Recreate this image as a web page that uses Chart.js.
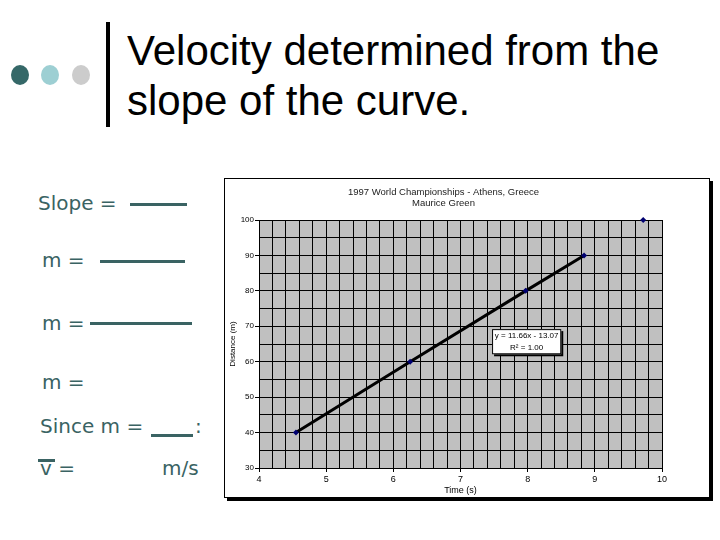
<!DOCTYPE html>
<html>
<head>
<meta charset="utf-8">
<script src="https://cdn.jsdelivr.net/npm/chart.js@4/dist/chart.umd.min.js"></script>
<style>
  html, body { margin: 0; padding: 0; background: #fff; }
  body { width: 720px; height: 540px; position: relative; overflow: hidden; }
  .dot { position: absolute; width: 18px; height: 20px; border-radius: 50%; top: 65px; }
  #bar { position: absolute; left: 106px; top: 22px; width: 4px; height: 105px; background: #000; }
  #title { position: absolute; left: 127px; top: 26px; font-family: "Liberation Sans", Arial, sans-serif; font-size: 42px; line-height: 50px; color: #000; white-space: nowrap; }
  .lt { position: absolute; font-family: "DejaVu Sans", Verdana, sans-serif; font-size: 20px; line-height: 24px; color: #3a6363; white-space: nowrap; }
  .ln { position: absolute; height: 0; border-top: 3px solid #3a6363; }
  #box { position: absolute; left: 224px; top: 178px; width: 484px; height: 318px; border: 1px solid #000; box-shadow: 3px 3px 0 #000; background: #fff; }
  #box canvas { display: block; }
</style>
</head>
<body>
<div class="dot" style="left:11px;background:#356868;"></div>
<div class="dot" style="left:41px;background:#9dcfd3;"></div>
<div class="dot" style="left:72px;background:#cccccc;"></div>
<div id="bar"></div>
<div id="title">Velocity determined from the<br>slope of the curve.</div>

<div class="lt" style="left:38px;top:191px;">Slope =</div>
<div class="ln" style="left:130px;top:203px;width:57px;"></div>
<div class="lt" style="left:42px;top:248px;">m =</div>
<div class="ln" style="left:100px;top:260px;width:85px;"></div>
<div class="lt" style="left:42px;top:311px;">m =</div>
<div class="ln" style="left:90px;top:322px;width:102px;"></div>
<div class="lt" style="left:42px;top:370px;">m =</div>
<div class="lt" style="left:40px;top:414px;">Since m =</div>
<div class="ln" style="left:151px;top:434px;width:42px;"></div>
<div class="lt" style="left:195px;top:414px;">:</div>
<div class="ln" style="left:38px;top:459px;width:17px;"></div>
<div class="lt" style="left:40px;top:456px;">v =</div>
<div class="lt" style="left:162px;top:456px;">m/s</div>

<div id="box"><canvas id="c" width="484" height="318"></canvas></div>

<script>
const chartTitle = ["1997 World Championships - Athens, Greece", "Maurice Green"];
const xTitle = "Time (s)";
const yTitle = "Distance (m)";
const times = [4.55, 6.25, 7.97, 8.84, 9.72];
const distances = [40, 60, 80, 90, 100];
const trendText = ["y = 11.66x - 13.07", "R\u00B2 = 1.00"];
const xMin = 4, xMax = 10, xStep = 0.2;
const yMin = 30, yMax = 100, yStep = 5;

const points = times.map((t, i) => ({ x: t, y: distances[i] }));

const isWhole = (v, m) => Math.abs(v / m - Math.round(v / m)) < 1e-6;

const bgPlugin = {
  id: 'plotBg',
  beforeDraw(chart) {
    const { ctx, chartArea: a } = chart;
    ctx.save();
    ctx.fillStyle = '#c0c0c0';
    ctx.fillRect(a.left, a.top, a.right - a.left, a.bottom - a.top);
    ctx.restore();
  }
};

const trendPlugin = {
  id: 'trendLabel',
  afterDatasetsDraw(chart) {
    const { ctx } = chart;
    const xs = chart.scales.x, ys = chart.scales.y;
    const x1 = xs.getPixelForValue(7.47), x2 = xs.getPixelForValue(8.50);
    const y1 = ys.getPixelForValue(69.2), y2 = ys.getPixelForValue(62.1);
    ctx.save();
    ctx.fillStyle = '#000';
    ctx.fillRect(x1 + 2, y1 + 2, x2 - x1, y2 - y1);
    ctx.fillStyle = '#fff';
    ctx.fillRect(x1, y1, x2 - x1, y2 - y1);
    ctx.strokeStyle = '#000';
    ctx.lineWidth = 1;
    ctx.strokeRect(x1 + 0.5, y1 + 0.5, x2 - x1 - 1, y2 - y1 - 1);
    ctx.fillStyle = '#000';
    ctx.font = '8px "Liberation Sans", Arial, sans-serif';
    ctx.textAlign = 'center';
    ctx.textBaseline = 'middle';
    const cx = (x1 + x2) / 2;
    ctx.fillText(trendText[0], cx, y1 + 7);
    ctx.fillText(trendText[1], cx, y1 + 18.5);
    ctx.restore();
  }
};

const lastIdx = points.length - 1;

new Chart(document.getElementById('c'), {
  type: 'scatter',
  data: {
    datasets: [{
      data: points,
      showLine: true,
      clip: false,
      borderColor: '#000',
      borderWidth: 3,
      segment: {
        borderColor: ctx => ctx.p1DataIndex === lastIdx ? 'rgba(0,0,0,0)' : '#000'
      },
      pointStyle: 'rectRot',
      pointRadius: 3,
      pointBackgroundColor: '#000070',
      pointBorderColor: '#000070',
      pointBorderWidth: 0
    }]
  },
  options: {
    responsive: false,
    animation: false,
    layout: { padding: { left: 0, right: 47, top: 0, bottom: 0 } },
    plugins: {
      legend: { display: false },
      tooltip: { enabled: false },
      title: {
        display: true,
        text: chartTitle,
        color: '#222',
        font: { family: '"Liberation Sans", Arial, sans-serif', size: 9.5, weight: 'normal', lineHeight: '11px' },
        padding: { top: 8, bottom: 11 }
      }
    },
    scales: {
      x: {
        type: 'linear',
        min: xMin, max: xMax,
        afterFit: s => { s.height = 29; },
        ticks: {
          stepSize: xStep, autoSkip: false, maxRotation: 0, maxTicksLimit: 1000,
          padding: 2, color: '#000',
          font: { family: '"Liberation Sans", Arial, sans-serif', size: 9 },
          callback: v => isWhole(v, 1) ? String(Math.round(v)) : ''
        },
        grid: {
          color: '#000', lineWidth: 1, tickLength: 4,
          tickColor: c => (c.tick && isWhole(c.tick.value, 1)) ? '#000' : 'rgba(0,0,0,0)'
        },
        border: { color: '#000', width: 1 },
        title: {
          display: true, text: xTitle, color: '#000',
          font: { family: '"Liberation Sans", Arial, sans-serif', size: 9 },
          padding: { top: 0, bottom: 1.5 }
        }
      },
      y: {
        type: 'linear',
        min: yMin, max: yMax,
        afterFit: s => { s.width = 34; },
        ticks: {
          stepSize: yStep, autoSkip: false, maxTicksLimit: 1000,
          padding: 1, color: '#000',
          font: { family: '"Liberation Sans", Arial, sans-serif', size: 8 },
          callback: v => isWhole(v, 10) ? String(Math.round(v)) : ''
        },
        grid: {
          color: '#000', lineWidth: 1, tickLength: 4,
          tickColor: c => (c.tick && isWhole(c.tick.value, 10)) ? '#000' : 'rgba(0,0,0,0)'
        },
        border: { color: '#000', width: 1 },
        title: {
          display: true, text: yTitle, color: '#000',
          font: { family: '"Liberation Sans", Arial, sans-serif', size: 8 },
          padding: { top: 3, bottom: 0 }
        }
      }
    }
  },
  plugins: [bgPlugin, trendPlugin]
});
</script>
</body>
</html>
